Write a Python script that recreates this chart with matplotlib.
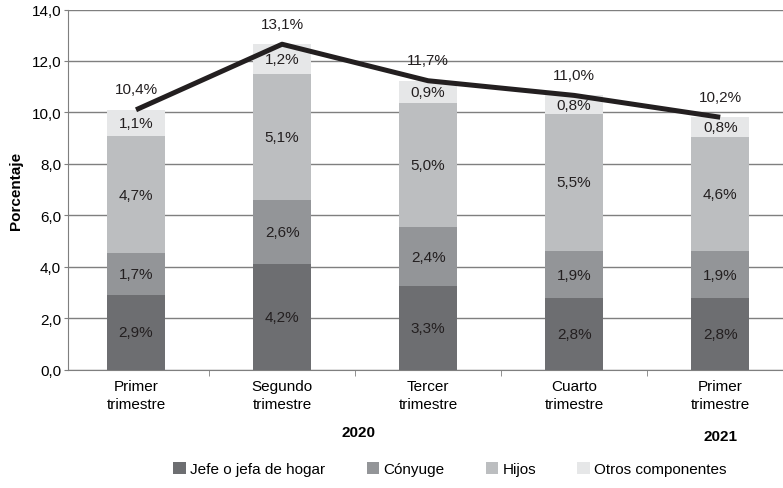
import numpy as np
import matplotlib
matplotlib.use("Agg")
import matplotlib.pyplot as plt
from matplotlib.patches import Patch

# ---- data (segment heights, labels as printed) ----
periodos = ["Primer\ntrimestre", "Segundo\ntrimestre", "Tercer\ntrimestre",
            "Cuarto\ntrimestre", "Primer\ntrimestre"]
series = ["Jefe o jefa de hogar", "Cónyuge", "Hijos", "Otros componentes"]

jefe = [2.88, 4.10, 3.23, 2.78, 2.78]
conyuge = [1.66, 2.48, 2.32, 1.82, 1.82]
hijos = [4.53, 4.93, 4.80, 5.35, 4.43]
otros = [1.03, 1.14, 0.88, 0.71, 0.78]

lbl_jefe = ["2,9%", "4,2%", "3,3%", "2,8%", "2,8%"]
lbl_conyuge = ["1,7%", "2,6%", "2,4%", "1,9%", "1,9%"]
lbl_hijos = ["4,7%", "5,1%", "5,0%", "5,5%", "4,6%"]
lbl_otros = ["1,1%", "1,2%", "0,9%", "0,8%", "0,8%"]
lbl_total = ["10,4%", "13,1%", "11,7%", "11,0%", "10,2%"]

colores = ["#6d6e71", "#939598", "#bcbec0", "#e6e7e8"]

plt.rcParams["font.family"] = ["Liberation Sans", "DejaVu Sans"]
FS = 11

fig = plt.figure(figsize=(7.83, 4.89), dpi=100)
ax = fig.add_axes([0.0868, 0.2423, 0.9132, 0.7362])

x = np.arange(len(periodos))
capas = [jefe, conyuge, hijos, otros]
etiquetas = [lbl_jefe, lbl_conyuge, lbl_hijos, lbl_otros]

base = np.zeros(len(x))
for vals, col, lbls in zip(capas, colores, etiquetas):
  vals = np.array(vals)
  ax.bar(x, vals, width=0.4, bottom=base, color=col, zorder=2)
  for xi, b, v, t in zip(x, base, vals, lbls):
    ax.text(xi, b + v / 2, t, ha="center", va="center", fontsize=FS,
            color="#231f20", zorder=4)
  base = base + vals

# total line on top of the stacks
ax.plot(x, base, color="#231f20", lw=3.6, zorder=3, solid_capstyle="butt")
for xi, b, t in zip(x, base, lbl_total):
  ax.text(xi, b + 0.8, t, ha="center", va="center", fontsize=FS, color="#231f20")

ax.set_ylim(0, 14)
ax.set_xlim(-0.466, 4.43)
ax.set_yticks(np.arange(0, 15, 2))
ax.set_yticklabels([f"{v:.1f}".replace(".", ",") for v in np.arange(0, 15, 2)],
                   fontsize=FS)
ax.yaxis.grid(True, color="#7f7f7f", lw=1, zorder=0)
ax.set_axisbelow(True)

ax.set_xticks(x)
ax.set_xticklabels(periodos, fontsize=FS, linespacing=1.3)
ax.set_xticks(x[:-1] + 0.5, minor=True)
ax.tick_params(axis="x", which="major", length=0, pad=7)
ax.tick_params(axis="x", which="minor", length=4, color="#7f7f7f")
ax.tick_params(axis="y", length=3, color="#7f7f7f", pad=2)

for s in ["top", "right"]:
  ax.spines[s].set_visible(False)
for s in ["left", "bottom"]:
  ax.spines[s].set_color("#7f7f7f")

ax.set_ylabel("Porcentaje", fontsize=FS, fontweight="bold", labelpad=6)

fig.text(358 / 783, 1 - 433 / 489, "2020", ha="center", va="center",
         fontsize=FS, fontweight="bold")
fig.text(720 / 783, 1 - 437 / 489, "2021", ha="center", va="center",
         fontsize=FS, fontweight="bold")

handles = [Patch(facecolor=c) for c in colores]
fig.legend(handles, series, loc="center", bbox_to_anchor=(450 / 783, 1 - 470 / 489),
           ncol=4, frameon=False, handlelength=0.8, handleheight=0.9,
           handletextpad=0.3, columnspacing=2.7, borderpad=0, prop={"size": FS})

fig.savefig("out.png", dpi=100)
